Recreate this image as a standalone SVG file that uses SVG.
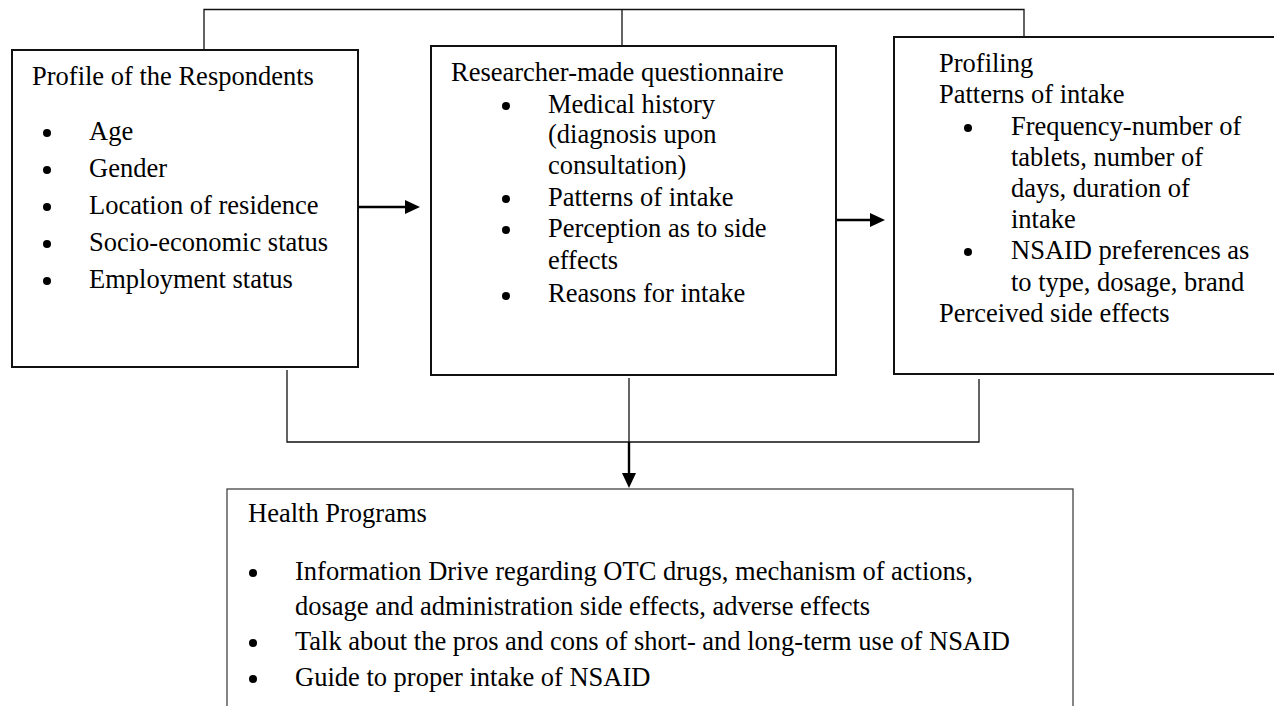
<svg xmlns="http://www.w3.org/2000/svg" width="1274" height="706" viewBox="0 0 1274 706">
  <style>
    text { font-family: "Liberation Serif", "Times New Roman", serif; font-size: 26.5px; fill: #000; }
    .box { fill: #fff; stroke: #111; stroke-width: 2; }
    .box-thin { fill: #fff; stroke: #444; stroke-width: 1.3; }
    .link { fill: none; stroke: #111; stroke-width: 1.3; }
    .link-bold { fill: none; stroke: #000; stroke-width: 2.4; }
    .bullet { fill: #000; }
    .head { fill: #000; stroke: none; }
  </style>

  <!-- connectors -->
  <g id="connectors">
    <!-- bracket joining the three upper boxes -->
    <path class="link" d="M204 50 V9.5 H1024 V44"/>
    <path class="link" d="M622 9.5 V46"/>
    <!-- profile -> questionnaire -->
    <path class="link-bold" d="M358 207 H406"/>
    <polygon class="head" points="405,200 420,207 405,214"/>
    <!-- questionnaire -> profiling -->
    <path class="link-bold" d="M836 220 H871"/>
    <polygon class="head" points="870,213 885,220 870,227"/>
    <!-- bracket joining the upper boxes to the programs box -->
    <path class="link" d="M287 370 V442 H979 V379"/>
    <path class="link" d="M629 378 V442"/>
    <path class="link-bold" d="M629 442 V474"/>
    <polygon class="head" points="622,473 636,473 629,488"/>
  </g>

  <!-- profile of the respondents -->
  <g id="node-profile">
    <rect class="box" x="12" y="50" width="346" height="317"/>
    <text x="32" y="85">Profile of the Respondents</text>
    <circle class="bullet" cx="47" cy="133" r="4"/>
    <text x="89" y="140">Age</text>
    <circle class="bullet" cx="47" cy="170" r="4"/>
    <text x="89" y="177">Gender</text>
    <circle class="bullet" cx="47" cy="207" r="4"/>
    <text x="89" y="214">Location of residence</text>
    <circle class="bullet" cx="47" cy="244" r="4"/>
    <text x="89" y="251">Socio-economic status</text>
    <circle class="bullet" cx="47" cy="281" r="4"/>
    <text x="89" y="288">Employment status</text>
  </g>

  <!-- questionnaire -->
  <g id="node-questionnaire">
    <rect class="box" x="431" y="46" width="405" height="329"/>
    <text x="451" y="81">Researcher-made questionnaire</text>
    <circle class="bullet" cx="506" cy="106" r="4"/>
    <text x="548" y="113">Medical history</text>
    <text x="548" y="143">(diagnosis upon</text>
    <text x="548" y="174">consultation)</text>
    <circle class="bullet" cx="506" cy="199" r="4"/>
    <text x="548" y="206">Patterns of intake</text>
    <circle class="bullet" cx="506" cy="230" r="4"/>
    <text x="548" y="237">Perception as to side</text>
    <text x="548" y="269">effects</text>
    <circle class="bullet" cx="506" cy="296" r="4"/>
    <text x="548" y="302">Reasons for intake</text>
  </g>

  <!-- profiling -->
  <g id="node-profiling">
    <rect class="box" x="894" y="37" width="400" height="337"/>
    <text x="939" y="72">Profiling</text>
    <text x="939" y="103">Patterns of intake</text>
    <circle class="bullet" cx="968" cy="128" r="4"/>
    <text x="1011" y="135">Frequency-number of</text>
    <text x="1011" y="166">tablets, number of</text>
    <text x="1011" y="197">days, duration of</text>
    <text x="1011" y="228">intake</text>
    <circle class="bullet" cx="968" cy="252" r="4"/>
    <text x="1011" y="259">NSAID preferences as</text>
    <text x="1011" y="291">to type, dosage, brand</text>
    <text x="939" y="322">Perceived side effects</text>
  </g>

  <!-- health programs -->
  <g id="node-programs">
    <rect class="box-thin" x="227" y="489" width="846" height="240"/>
    <text x="248" y="522">Health Programs</text>
    <circle class="bullet" cx="253" cy="573" r="4"/>
    <text x="295" y="580">Information Drive regarding OTC drugs, mechanism of actions,</text>
    <text x="295" y="615">dosage and administration side effects, adverse effects</text>
    <circle class="bullet" cx="253" cy="643" r="4"/>
    <text x="295" y="650">Talk about the pros and cons of short- and long-term use of NSAID</text>
    <circle class="bullet" cx="253" cy="679" r="4"/>
    <text x="295" y="686">Guide to proper intake of NSAID</text>
  </g>
</svg>
